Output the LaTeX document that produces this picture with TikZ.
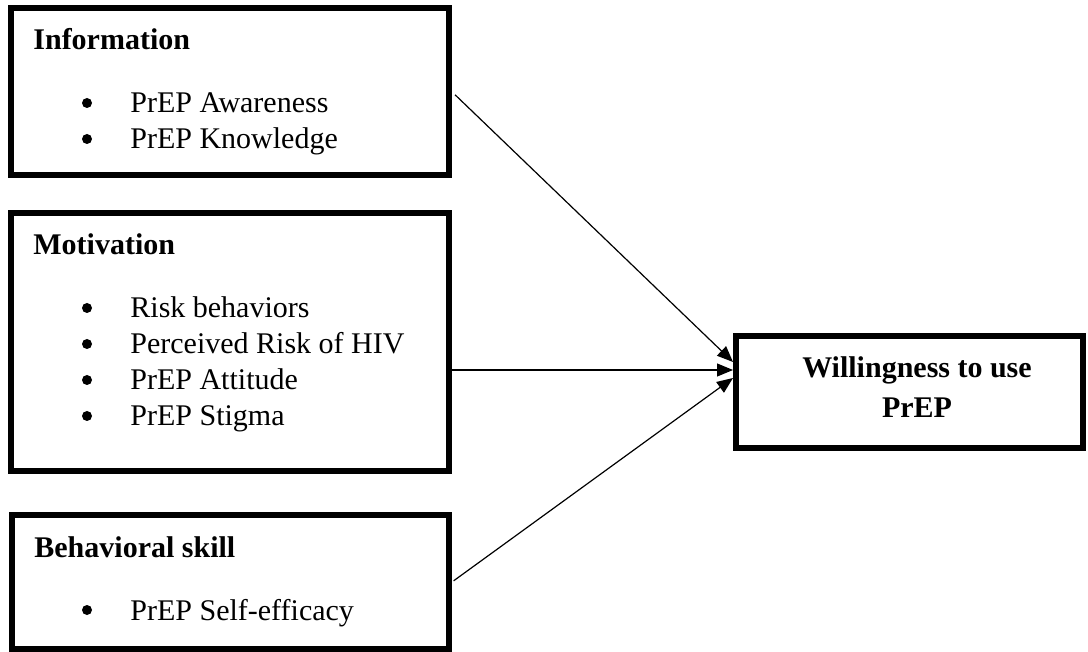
\documentclass[tikz,border=0pt]{standalone}
\usepackage{fontspec}
\setmainfont{Liberation Serif}
\usetikzlibrary{arrows.meta}
\begin{document}
\begin{tikzpicture}[x=0.5pt,y=-0.5pt,
  box/.style={draw, line width=3pt, rectangle, inner sep=0pt},
  head/.style={anchor=base west, inner sep=0pt, font=\fontsize{15}{18}\selectfont\bfseries},
  item/.style={anchor=base west, inner sep=0pt, font=\fontsize{15}{18}\selectfont},
  dot/.style={circle, fill, inner sep=0pt, minimum size=5pt},
  arr/.style={-{Triangle[length=8pt,width=6.5pt]}, line width=0.6pt},
  wtext/.style={anchor=base, inner sep=0pt, font=\fontsize{15}{18}\selectfont\bfseries}]
\useasboundingbox (0,0) rectangle (1088,652);

% boxes
\node[box, minimum width=218.75pt, minimum height=83.35pt] (info) at (229.75,91.35) {};
\node[box, minimum width=219pt, minimum height=129pt] (mot) at (230,342) {};
\node[box, minimum width=218.5pt, minimum height=67pt] (beh) at (230.5,582) {};
\node[box, minimum width=173.5pt, minimum height=56pt] (will) at (909.5,392) {};

% Information
\node[head] (hinfo) at (33,50) {Information};
\node[dot] (d1) at (87,103) {};
\node[item] (i1) at (130,113) {PrEP Awareness};
\node[dot] (d2) at (87,139) {};
\node[item] (i2) at (130,149) {PrEP Knowledge};

% Motivation
\node[head] (hmot) at (33,255) {Motivation};
\node[dot] (d3) at (87,308) {};
\node[item] (m1) at (130,318) {Risk behaviors};
\node[dot] (d4) at (87,344) {};
\node[item] (m2) at (130,354) {Perceived Risk of HIV};
\node[dot] (d5) at (87,380) {};
\node[item] (m3) at (130,390) {PrEP Attitude};
\node[dot] (d6) at (87,416) {};
\node[item] (m4) at (130,426) {PrEP Stigma};

% Behavioral skill
\node[head] (hbeh) at (34,557) {Behavioral skill};
\node[dot] (d7) at (87,610) {};
\node[item] (s1) at (130,620) {PrEP Self-efficacy};

% Willingness
\node[wtext] (w1) at (917,378) {Willingness to use};
\node[wtext] (w2) at (917,418) {PrEP};

% connectors
\coordinate (t1) at ([yshift=15pt]will.west);
\coordinate (t2) at ([yshift=11pt]will.west);
\coordinate (t3) at ([yshift=7pt]will.west);
\draw[arr, shorten <=2.5pt] (info.east) -- (t1);
\draw[arr] (mot.east |- t2) -- (t2);
\draw[arr, shorten <=1pt] (beh.east) -- (t3);
\end{tikzpicture}
\end{document}
